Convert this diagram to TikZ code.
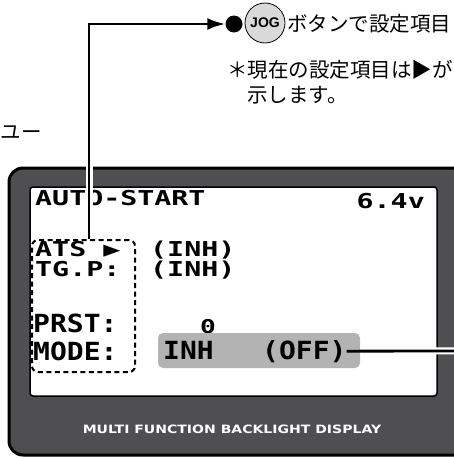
\documentclass[tikz,border=0pt]{standalone}
\usepackage{fontspec}
\usetikzlibrary{arrows.meta,calc,positioning}
\newfontfamily\jpfont{Noto Sans CJK JP}
\newfontfamily\lcdfont{DejaVu Sans Mono}[FakeStretch=1.38]
\newfontfamily\lcdbigfont{DejaVu Sans Mono}[FakeStretch=1.12]
\newfontfamily\panelfont{DejaVu Sans}[FakeStretch=1.22]
\newfontfamily\jogfont{Liberation Sans}
\definecolor{frameGray}{HTML}{4F4F51}
\definecolor{selGray}{HTML}{B3B3B3}
\definecolor{jogGray}{HTML}{D9D9D9}

\begin{document}
\begin{tikzpicture}[
  x=1pt, y=-1pt,
  jp/.style={font=\jpfont\fontsize{20.5}{24}\selectfont, inner sep=0pt},
  lcd/.style={font=\lcdfont\bfseries\fontsize{20.5}{24}\selectfont, inner sep=0pt, anchor=base west},
  lcdbig/.style={font=\lcdbigfont\bfseries\fontsize{25}{28}\selectfont, inner sep=0pt, anchor=base west},
  casing/.style={draw=white, line width=7pt},
  lead/.style={draw=black, line width=2.8pt},
  arrow/.style={lead, -{Latex[length=18pt, width=12pt]}}
]
\useasboundingbox (0,0) rectangle (453,458);

% device body and screen
\draw[fill=frameGray, line width=3pt, rounded corners=14pt] (9,168) rectangle (480,455);
\draw[fill=white, line width=1.5pt, rounded corners=3pt] (30,187) rectangle (437,396);
\node[font=\panelfont\bfseries\fontsize{11.5}{13}\selectfont, text=white] (panel) at (232,429) {MULTI FUNCTION BACKLIGHT DISPLAY};

% screen contents
\node[lcd] (title) at (35,205) {AUTO-START};
\node[lcd, anchor=base east] (volt) at (425,208) {6.4v};
\node[lcd] (ats) at (35,256) {ATS ▶};
\node[lcd] (atsval) at (150,256) {(INH)};
\node[lcd] (tgp) at (35,276) {TG.P:};
\node[lcd] (tgpval) at (150,276) {(INH)};
\node[lcdbig] (prst) at (33,332) {PRST:};
\node[lcd, font=\lcdfont\bfseries\fontsize{19}{20}\selectfont] (prstval) at (200,333) {0};
\node[lcdbig] (mode) at (33,360) {MODE:};

\node[fill=selGray, rounded corners=5pt, minimum width=202pt, minimum height=35pt] (selbox) at (259,350.5) {};
\node[lcdbig] (inh) at (163,359) {INH};
\node[lcdbig] (off) at (262,359) {(OFF)};

\node[draw, dash pattern=on 5pt off 3.5pt, line width=2pt, rounded corners=6pt,
  minimum width=103pt, minimum height=132pt] (itemframe) at (83.5,306) {};

% callout texts
\node[circle, fill=black, minimum size=17pt, inner sep=0pt] (dot) at (234,24) {};
\node[circle, draw, fill=jogGray, line width=0.8pt, minimum size=40pt, inner sep=0pt,
  font=\jogfont\bfseries\fontsize{14}{14}\selectfont] (jog) at (265,23) {JOG};
\node[jp, anchor=west] (howto) at (287,24) {ボタンで設定項目};
\node[jp, anchor=west] (note1) at (227,70) {＊現在の設定項目は▶が};
\node[jp, anchor=west] (note2) at (247,95) {示します。};
\node[jp, anchor=east] (menu) at (42,133) {ユー};

% leaders
\coordinate (bend) at (89,24);
\coordinate (rim) at (460,351);
\draw[casing] (itemframe.north -| bend) -- (bend) -- (dot.west);
\draw[arrow] (itemframe.north -| bend) -- (bend) -- (dot.west);
\draw[casing] (selbox.east) -- (rim);
\draw[lead] (off.east) -- (rim);
\end{tikzpicture}
\end{document}
